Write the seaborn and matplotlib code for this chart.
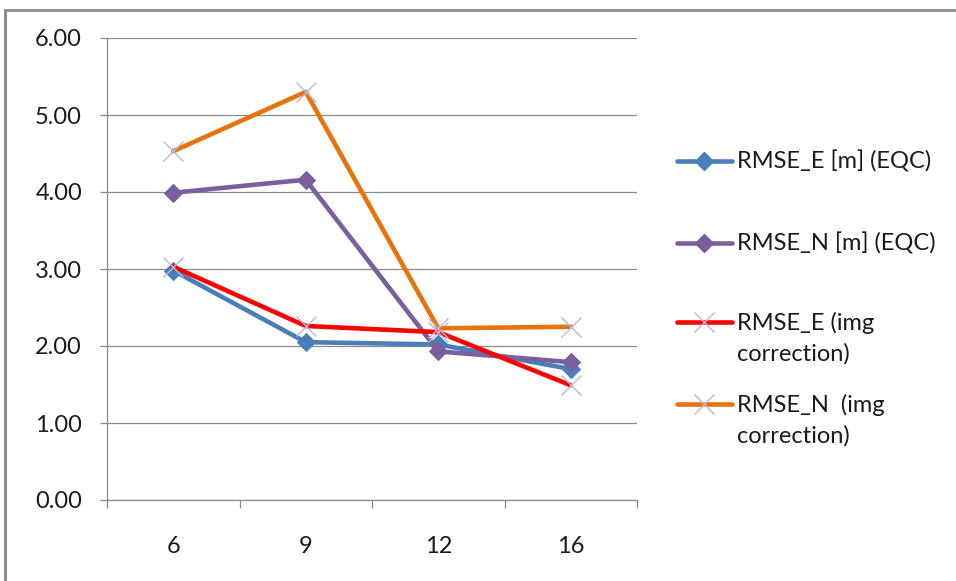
import matplotlib
matplotlib.use("Agg")
import matplotlib.pyplot as plt
from matplotlib.lines import Line2D
import seaborn as sns
import pandas as pd

# Number of control points per test case
categories = ["6", "9", "12", "16"]

# RMSE values in metres
rmse_e_eqc = [2.98, 2.05, 2.02, 1.70]
rmse_n_eqc = [3.99, 4.16, 1.93, 1.79]
rmse_e_img = [3.03, 2.26, 2.18, 1.49]
rmse_n_img = [4.53, 5.30, 2.23, 2.25]

series_names = [
    "RMSE_E [m] (EQC)",
    "RMSE_N [m] (EQC)",
    "RMSE_E (img\ncorrection)",
    "RMSE_N  (img\ncorrection)",
]
series_values = [rmse_e_eqc, rmse_n_eqc, rmse_e_img, rmse_n_img]

y_ticks = [0, 1, 2, 3, 4, 5, 6]
y_tick_labels = ["0.00", "1.00", "2.00", "3.00", "4.00", "5.00", "6.00"]

colors = ["#4a7ebb", "#7b5e9e", "#ff0000", "#e8720c"]
cross_color = "#b8b8dc"
grid_color = "#8a8a8a"
text_color = "#1a1a1a"
font_size = 17

sns.set_theme(style="white")
plt.rcParams["font.family"] = ["Lato", "DejaVu Sans"]

W, H = 956, 581
fig = plt.figure(figsize=(W / 100, H / 100), dpi=100)
ax = fig.add_axes([107 / W, 1 - 500 / H, (637 - 107) / W, (500 - 38) / H])

df = pd.DataFrame({
    "n": categories * len(series_names),
    "rmse": [v for vals in series_values for v in vals],
    "series": [name for name in series_names for _ in categories],
})

for i, name in enumerate(series_names):
    sub = df[df["series"] == name]
    if i < 2:
        sns.lineplot(data=sub, x="n", y="rmse", ax=ax, color=colors[i],
                     linewidth=3.3, marker="D", markersize=9,
                     markerfacecolor=colors[i], markeredgecolor=colors[i],
                     sort=False, zorder=3 + i)
    else:
        sns.lineplot(data=sub, x="n", y="rmse", ax=ax, color=colors[i],
                     linewidth=3.3, marker="x", markersize=14,
                     markeredgecolor=cross_color, markeredgewidth=1.0,
                     sort=False, zorder=3 + i)

ax.set_xlim(-0.5, len(categories) - 0.5)
ax.set_ylim(0, 6)
ax.set_yticks(y_ticks)
ax.set_yticklabels(y_tick_labels)
ax.set_xticks(range(len(categories)))
ax.set_xticklabels(categories)
ax.set_xticks([k - 0.5 for k in range(len(categories) + 1)], minor=True)
ax.set_xlabel("")
ax.set_ylabel("")

ax.yaxis.grid(True, color=grid_color, linewidth=0.9)
ax.xaxis.grid(False)
ax.set_axisbelow(True)
for side in ["top", "right"]:
    ax.spines[side].set_visible(False)
for side in ["left", "bottom"]:
    ax.spines[side].set_color(grid_color)
    ax.spines[side].set_linewidth(0.9)

ax.tick_params(axis="y", which="major", direction="out", length=5, width=0.9,
               color=grid_color, left=True, pad=13, labelsize=font_size,
               labelcolor=text_color)
ax.tick_params(axis="x", which="major", length=0, pad=26, labelsize=font_size,
               labelcolor=text_color)
ax.tick_params(axis="x", which="minor", direction="out", length=6, width=0.9,
               color=grid_color, bottom=True)

# Legend on the right, each handle aligned with the first line of its label
entry_y = [161, 243, 322, 404]
for i, name in enumerate(series_names):
    yf = 1 - entry_y[i] / H
    fig.add_artist(Line2D([677 / W, 732 / W], [yf, yf], transform=fig.transFigure,
                          color=colors[i], linewidth=3.3, solid_capstyle="round"))
    if i < 2:
        fig.add_artist(Line2D([704 / W], [yf], transform=fig.transFigure,
                              marker="D", markersize=9, color=colors[i],
                              markeredgecolor=colors[i]))
    else:
        fig.add_artist(Line2D([704 / W], [yf], transform=fig.transFigure,
                              marker="x", markersize=14, markeredgewidth=1.0,
                              color=cross_color, linestyle="none"))
    for j, line in enumerate(name.split("\n")):
        baseline = entry_y[i] + 8 + 31 * j
        fig.text(737 / W, 1 - baseline / H, line, ha="left", va="baseline",
                 fontsize=font_size, color=text_color)

# Chart-area frame (top and left edges)
fig.add_artist(Line2D([4.5 / W, 4.5 / W], [0, 1 - 9.5 / H], transform=fig.transFigure,
                      color="#8c8c8c", linewidth=2.2))
fig.add_artist(Line2D([4.5 / W, 1], [1 - 9.5 / H, 1 - 9.5 / H], transform=fig.transFigure,
                      color="#8c8c8c", linewidth=2.0))

fig.savefig("out.png", dpi=100, facecolor="white")
